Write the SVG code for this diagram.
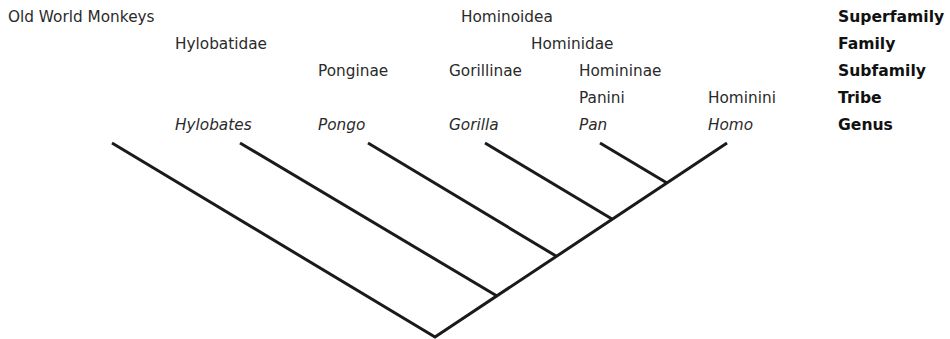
<svg xmlns="http://www.w3.org/2000/svg" width="950" height="339" viewBox="0 0 950 339">
<style>
text{font-family:"DejaVu Sans",Verdana,sans-serif;font-size:15.3px;fill:#2a2a2a}
.i{font-style:italic}
.b{font-weight:bold;font-size:15.6px;fill:#111}
.e{stroke:#1a1a1a;stroke-width:3;fill:none;stroke-linecap:butt}
</style>
<rect width="950" height="339" fill="#fff"/>
<g id="labels">
<text x="8" y="22">Old World Monkeys</text>
<text x="461" y="22">Hominoidea</text>
<text x="175" y="49">Hylobatidae</text>
<text x="531" y="49">Hominidae</text>
<text x="318" y="76">Ponginae</text>
<text x="449" y="76">Gorillinae</text>
<text x="579" y="76">Homininae</text>
<text x="579" y="103">Panini</text>
<text x="708" y="103">Hominini</text>
</g>
<g id="genera">
<text class="i" x="175" y="130">Hylobates</text>
<text class="i" x="318" y="130">Pongo</text>
<text class="i" x="449" y="130">Gorilla</text>
<text class="i" x="579" y="130">Pan</text>
<text class="i" x="708" y="130">Homo</text>
</g>
<g id="ranks">
<text class="b" x="838" y="22">Superfamily</text>
<text class="b" x="838" y="49">Family</text>
<text class="b" x="838" y="76">Subfamily</text>
<text class="b" x="838" y="103">Tribe</text>
<text class="b" x="838" y="130">Genus</text>
</g>
<g id="connectors" class="e">
<path class="e" d="M112,143 L435,337 L727,143"/>
<path class="e" d="M240,143 L497,296"/>
<path class="e" d="M368,143 L556,256"/>
<path class="e" d="M485,143 L612,219"/>
<path class="e" d="M600,143 L667,183"/>
</g>
</svg>
